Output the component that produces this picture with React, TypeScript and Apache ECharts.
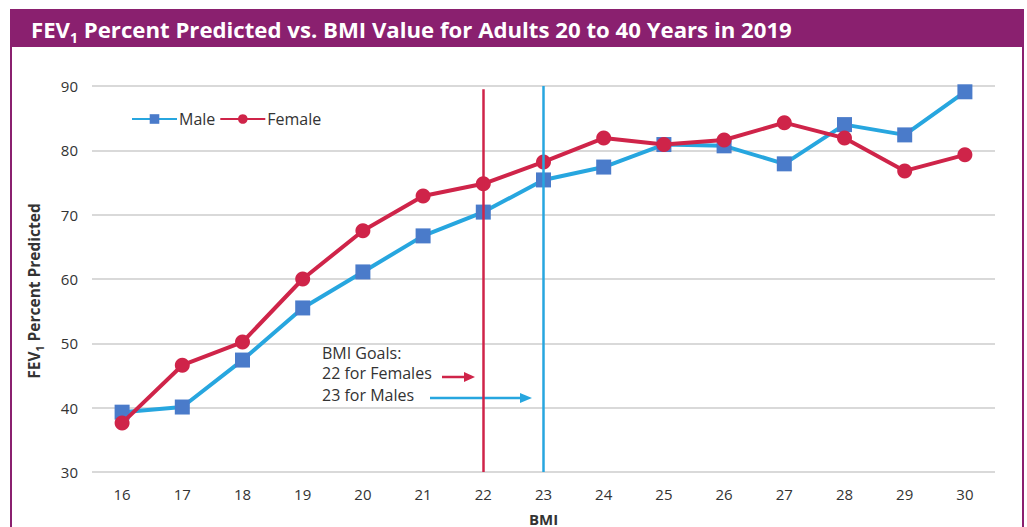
import React, { useEffect, useRef } from "react";
import * as echarts from "echarts";

const bmiCategories = ["16", "17", "18", "19", "20", "21", "22", "23", "24", "25", "26", "27", "28", "29", "30"];
const maleValues = [39.3, 40.1, 47.4, 55.5, 61.1, 66.7, 70.4, 75.4, 77.4, 80.9, 80.7, 77.9, 84.0, 82.4, 89.1];
const femaleValues = [37.6, 46.6, 50.2, 60.0, 67.5, 72.9, 74.8, 78.2, 81.9, 80.9, 81.6, 84.3, 81.9, 76.8, 79.3];
const femaleGoal = "22";
const maleGoal = "23";
const annotationLines = ["BMI Goals:", "22 for Females", "23 for Males"];

const PURPLE = "#8A206F";
const BLUE_LINE = "#27A6DF";
const BLUE_MARK = "#4A7BCA";
const RED = "#CF2449";
const FONT = "'Open Sans', 'Noto Sans', sans-serif";

export default function App() {
  const ref = useRef<HTMLDivElement>(null);
  useEffect(() => {
    if (!ref.current) return;
    const chart = echarts.init(ref.current, null, { renderer: "svg" });
    chart.setOption({
      animation: false,
      backgroundColor: "#ffffff",
      textStyle: { fontFamily: FONT },
      title: {
        text: "{a|FEV}{s|1}{a| Percent Predicted vs. BMI Value for Adults 20 to 40 Years in 2019}",
        left: 26,
        top: 13,
        textStyle: {
          rich: {
            a: { fontSize: 22.2, fontWeight: "bold", color: "#fff", fontFamily: FONT, verticalAlign: "bottom" },
            s: { fontSize: 14, fontWeight: "bold", color: "#fff", fontFamily: FONT, verticalAlign: "bottom", padding: [0, 0, -4, 0] },
          },
        },
        z: 10,
      },
      legend: {
        left: 126,
        top: 106,
        itemWidth: 45,
        itemHeight: 12,
        itemGap: 4,
        textStyle: { fontSize: 16, color: "#333", fontFamily: FONT, padding: [0, 0, 0, -3] },
        data: ["Male", "Female"],
      },
      grid: { left: 92, right: 32, top: 86, bottom: 55, outerBoundsMode: "none" },
      xAxis: {
        type: "category",
        data: bmiCategories,
        name: "BMI",
        nameLocation: "middle",
        nameGap: 39,
        nameTextStyle: { fontSize: 15, fontWeight: "bold", color: "#333", fontFamily: FONT },
        axisLine: { show: false },
        axisTick: { show: false },
        axisLabel: { fontSize: 15, color: "#333", margin: 14, fontFamily: FONT },
      },
      yAxis: {
        type: "value",
        min: 30,
        max: 90,
        interval: 10,
        name: "{a|FEV}{s|1}{a| Percent Predicted}",
        nameLocation: "middle",
        nameRotate: 90,
        nameGap: 50,
        nameTextStyle: {
          padding: [0, 24, 0, 0],
          rich: {
            a: { fontSize: 15.5, fontWeight: "bold", color: "#333", fontFamily: FONT, verticalAlign: "bottom" },
            s: { fontSize: 10.5, fontWeight: "bold", color: "#333", fontFamily: FONT, verticalAlign: "bottom", padding: [0, 0, -3, 0] },
          },
        },
        axisLine: { show: false },
        axisTick: { show: false },
        axisLabel: { fontSize: 15, color: "#333", margin: 14, fontFamily: FONT },
        splitLine: { lineStyle: { color: "#d9d9d9", width: 2 } },
      },
      series: [
        {
          name: "Male",
          type: "line",
          data: maleValues,
          symbol: "rect",
          symbolSize: 15,
          lineStyle: { color: BLUE_LINE, width: 4 },
          itemStyle: { color: BLUE_MARK },
          z: 3,
          markLine: {
            silent: true,
            symbol: "none",
            label: { show: false },
            lineStyle: { color: BLUE_LINE, width: 2.5, type: "solid" },
            data: [[{ coord: [maleGoal, 90] }, { coord: [maleGoal, 30] }]],
          },
        },
        {
          name: "Female",
          type: "line",
          data: femaleValues,
          symbol: "circle",
          symbolSize: 15,
          lineStyle: { color: RED, width: 4 },
          itemStyle: { color: RED },
          z: 4,
          markLine: {
            silent: true,
            symbol: "none",
            label: { show: false },
            lineStyle: { color: RED, width: 2.5, type: "solid" },
            data: [[{ coord: [femaleGoal, 89.5] }, { coord: [femaleGoal, 30] }]],
          },
        },
      ],
      graphic: [
        { type: "rect", shape: { x: 10, y: 9, width: 1014, height: 38 }, style: { fill: PURPLE }, z: 0 },
        { type: "line", shape: { x1: 11, y1: 47, x2: 11, y2: 527 }, style: { stroke: PURPLE, lineWidth: 2 } },
        { type: "line", shape: { x1: 1023, y1: 47, x2: 1023, y2: 527 }, style: { stroke: PURPLE, lineWidth: 2 } },
        { type: "text", x: 322, y: 353, style: { text: annotationLines[0], fontSize: 16, fill: "#333", fontFamily: FONT, verticalAlign: "middle" } },
        { type: "text", x: 322, y: 373, style: { text: annotationLines[1], fontSize: 16, fill: "#333", fontFamily: FONT, verticalAlign: "middle" } },
        { type: "text", x: 322, y: 395, style: { text: annotationLines[2], fontSize: 16, fill: "#333", fontFamily: FONT, verticalAlign: "middle" } },
        { type: "line", shape: { x1: 442, y1: 377, x2: 466, y2: 377 }, style: { stroke: RED, lineWidth: 2.5 } },
        { type: "polygon", shape: { points: [[464, 372], [475, 377], [464, 382]] }, style: { fill: RED } },
        { type: "line", shape: { x1: 430, y1: 398, x2: 522, y2: 398 }, style: { stroke: BLUE_LINE, lineWidth: 2.5 } },
        { type: "polygon", shape: { points: [[520, 393], [532, 398], [520, 403]] }, style: { fill: BLUE_LINE } },
      ],
    });
    return () => chart.dispose();
  }, []);
  return <div ref={ref} style={{ position: "fixed", left: 0, top: 0, width: 1027, height: 527 }} />;
}
